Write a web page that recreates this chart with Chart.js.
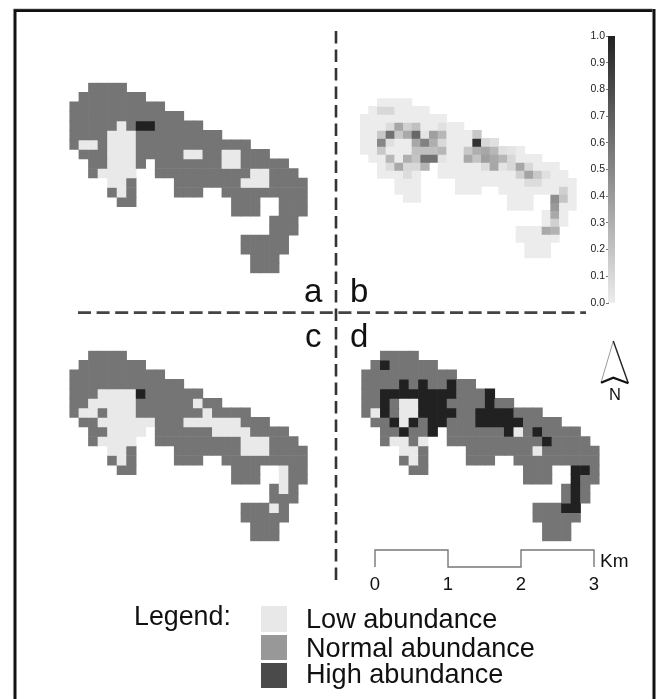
<!DOCTYPE html>
<html><head><meta charset="utf-8">
<style>
html,body{margin:0;padding:0;background:#fff;width:657px;height:699px;overflow:hidden}
#page{position:relative;width:657px;height:699px;filter:blur(0.45px)}
canvas{position:absolute}
svg{position:absolute;left:0;top:0}
text{font-family:"Liberation Sans",Arial,sans-serif;fill:#111}
</style>
<script src="https://cdn.jsdelivr.net/npm/chart.js@4/dist/chart.umd.min.js"></script>
</head><body><div id="page">
<svg width="657" height="699" viewBox="0 0 657 699">
  <path d="M15 699V10.5H654V699" fill="none" stroke="#111" stroke-width="3"/>
  <path d="M15 699V10.5H654V699" fill="none" stroke="#888" stroke-width="0.6" transform="translate(-1.6,-1.6)"/>
  <line x1="336" y1="31" x2="336" y2="584" stroke="#333" stroke-width="2.6" stroke-dasharray="12.5 6"/>
  <line x1="78" y1="312.6" x2="586" y2="312.6" stroke="#444" stroke-width="2.6" stroke-dasharray="13 5.6"/>
  <text x="304" y="302" font-size="33">a</text>
  <text x="350" y="302" font-size="33">b</text>
  <text x="305" y="347" font-size="33">c</text>
  <text x="350" y="347" font-size="33">d</text>
  <path d="M613.3 341L601 382.7" stroke="#999" stroke-width="1" fill="none"/>
  <path d="M613.3 341L628.3 383.3" stroke="#222" stroke-width="1.4" fill="none"/>
  <path d="M601 382.7L613.3 377.7L628.3 383.3" stroke="#111" stroke-width="2.2" fill="none"/>
  <text x="615" y="400" font-size="16.5" text-anchor="middle">N</text>
  <text x="600" y="567" font-size="19">Km</text>
  <text x="134" y="625" font-size="26.8">Legend:</text>
  <rect x="261" y="606" width="26" height="26" fill="#e8e8e8"/>
  <rect x="261" y="635" width="26" height="25" fill="#989898"/>
  <rect x="261" y="663" width="26" height="25" fill="#4a4a4a"/>
  <text x="306" y="628" font-size="27.1">Low abundance</text>
  <text x="306" y="657" font-size="27.1">Normal abundance</text>
  <text x="306" y="683" font-size="27.1">High abundance</text>
</svg>
<canvas id="panelA"></canvas><canvas id="panelB"></canvas><canvas id="panelC"></canvas><canvas id="panelD"></canvas>
<canvas id="colorbar"></canvas><canvas id="scalebar"></canvas>
</div>
<script>
// l = low, n = normal, h = high abundance, . = outside the area
const panelARows = [
"..nnnn",
".nnnnnnn",
"nnnnnnnnnn",
"nnnnnnnnnnnn",
"nnnnnlnhhnnnnn",
"nnnnlllnnnnnnnnn",
"nllnlllnnnnnnnnnnnn",
".nnnlllnnnnnllnnllnnn",
"..nnllln.nnnnnnnllnnnnn",
"..nllll..nnnnnnnnnnllnnn",
"....lln....nnnnnnnlllnnnn",
"....nln....nnn..nnnnnnnnn",
".....nn..........nnn..nnn",
".................nnn..nnn",
".....................nnn",
".....................nnn",
"..................nnnnn",
"..................nnnnn",
"...................nnn",
"...................nnn"];
const panelCRows = [
"..nnnn",
".nnnnnnn",
"nnnnnnnnnn",
"nnnnnnnnnnnn",
"nnnllllhnnnnnn",
"nnlllllnnnnnnlnn",
"nllnlllnnnnnnnlnnnn",
".nnllllllnnnllllllnnn",
"..nnllll.nnnnnnllllnnnn",
"..nllll..nnnnnnnnnlllnnn",
"....lln....nnnnnnnlllnnnn",
"....nln....nnn..nnnnnnnnn",
".....nn..........nnn..lnn",
".................nnn..lnn",
".....................nln",
".....................nnn",
"..................nnnln",
"..................nnnnn",
"...................nnn",
"...................nnn"];
const panelDRows = [
"..nnnn",
".nhnnnnn",
"nnnnnnnnnn",
"nnnnhnhnnhnn",
"nnhhhhhhhhnnnh",
"nnhnllhhhnnnnhnn",
"nlhnllhhhhnnhhhhnnn",
".nnhlhnhhnnnhhhhhnnnn",
"..nnhnnh.nnnnnnhlnhnnnn",
"..nllnl..nnnnnnnnnnhnnnn",
"....lln....nnnnnnnlnnnnnn",
"....nln....nnn..nnnnnnnnn",
".....nn..........nnn..hhn",
".................nnn..hnn",
".....................nhn",
".....................nhn",
"..................nnnhh",
"..................nnnnn",
"...................nnn",
"...................nnn"];
const _ = null;
// panel b: probability per cell, 0 to 1
const panelBValues = [
[_,_,0,0,0,0],
[_,0,.1,.1,0,0,0,0],
[0,0,0,0,0,0,0,0,0,0],
[0,0,0,.08,.34,.14,.22,0,0,.06,0,0],
[0,0,.18,.61,.18,.33,.66,.04,.38,.26,0,0,0,.18],
[0,0,.5,.06,0,0,.34,.53,.3,.1,0,0,0,.92,.1,.06],
[0,0,.18,0,0,0,.22,.22,.22,.26,0,0,.18,.3,.34,.26,.06,.04,0],
[_,0,0,.26,0,.3,.2,.61,.61,.04,0,0,.33,.2,.38,.33,.26,.1,0,0,0],
[_,_,0,.08,.33,.1,.1,.28,_,0,0,0,0,0,.08,.34,.04,.1,.34,.1,0,0,0],
[_,_,0,0,0,.08,0,_,_,0,0,0,0,0,0,0,0,0,.14,.36,.18,.06,0,0],
[_,_,_,_,0,0,0,_,_,_,_,0,0,0,0,0,0,0,0,.08,.08,0,0,0,0],
[_,_,_,_,0,0,0,_,_,_,_,0,0,0,_,_,0,0,0,0,0,0,0,.14,0],
[_,_,_,_,_,0,0,_,_,_,_,_,_,_,_,_,_,0,0,0,_,_,.46,.2,0],
[_,_,_,_,_,_,_,_,_,_,_,_,_,_,_,_,_,0,0,0,_,_,.41,0,0],
[_,_,_,_,_,_,_,_,_,_,_,_,_,_,_,_,_,_,_,_,_,0,.33,0],
[_,_,_,_,_,_,_,_,_,_,_,_,_,_,_,_,_,_,_,_,_,0,.14,0],
[_,_,_,_,_,_,_,_,_,_,_,_,_,_,_,_,_,_,0,0,0,.33,.28],
[_,_,_,_,_,_,_,_,_,_,_,_,_,_,_,_,_,_,0,0,0,0,0],
[_,_,_,_,_,_,_,_,_,_,_,_,_,_,_,_,_,_,_,0,0,0],
[_,_,_,_,_,_,_,_,_,_,_,_,_,_,_,_,_,_,_,0,0,0]];
const classColours = {l:"#e9e9e9", n:"#757575", h:"#212121"};
const colourbarTicks = [0,0.1,0.2,0.3,0.4,0.5,0.6,0.7,0.8,0.9,1.0];
const scaleKm = [0,0,1,1,2,2,3,3];
const scaleLevel = [0,1,1,0,0,1,1,0];

const nCols = 25, nRows = 20;
const columns = Array.from({length:nCols},(_v,i)=>String(i));
function greyOf(v){const g=Math.round(236-202*v);return `rgb(${g},${g},${g})`;}
function sized(id,w,h,left,top){const c=document.getElementById(id);c.width=w;c.height=h;c.style.width=w+"px";c.style.height=h+"px";c.style.left=left+"px";c.style.top=top+"px";return c;}
function drawPanel(id,box,colourRows){
  const L=Math.floor(box.x)-2,T=Math.floor(box.y)-2,W=Math.ceil(box.x+box.w)+2-L,H=Math.ceil(box.y+box.h)+2-T;
  const cv=sized(id,W,H,L,T);
  const datasets=colourRows.map((row,r)=>({
    data:columns.map((c,i)=>row[i]?[r,r+1]:null),
    backgroundColor:columns.map((c,i)=>row[i]||"rgba(0,0,0,0)"),
    borderWidth:0,barPercentage:1,categoryPercentage:1,grouped:false
  }));
  new Chart(cv,{type:"bar",data:{labels:columns,datasets},options:{
    responsive:false,animation:false,events:[],
    layout:{padding:{left:box.x-L,top:box.y-T,right:L+W-box.x-box.w,bottom:T+H-box.y-box.h}},
    plugins:{legend:{display:false},tooltip:{enabled:false}},
    scales:{x:{display:false},y:{display:false,reverse:true,min:0,max:nRows}}
  }});
}
const fromClasses=rows=>rows.map(s=>columns.map((c,i)=>classColours[s[i]]||null));
const fromValues=rows=>rows.map(row=>columns.map((c,i)=>(row[i]===null||row[i]===undefined)?null:greyOf(row[i])));

drawPanel("panelA",{x:69.4,y:82.7,w:238.3,h:190.6},fromClasses(panelARows));
drawPanel("panelB",{x:360,y:98.3,w:216.7,h:160},fromValues(panelBValues));
drawPanel("panelC",{x:69.4,y:350.7,w:238.3,h:190.6},fromClasses(panelCRows));
drawPanel("panelD",{x:361.3,y:350.7,w:238.3,h:190.6},fromClasses(panelDRows));

// colour bar with its own value axis
new Chart(sized("colorbar",45,290,570,26),{type:"bar",
  data:{labels:["p"],datasets:[{data:[[0,1]],borderWidth:0,barPercentage:1,categoryPercentage:1,
    backgroundColor(ctx){const a=ctx.chart.chartArea;if(!a)return "#888";
      const g=ctx.chart.ctx.createLinearGradient(0,a.bottom,0,a.top);
      g.addColorStop(0,greyOf(0));g.addColorStop(1,greyOf(1));return g;}}]},
  options:{responsive:false,animation:false,events:[],
    layout:{padding:{top:10,bottom:13,left:0,right:0}},
    plugins:{legend:{display:false},tooltip:{enabled:false}},
    scales:{x:{display:false},
      y:{min:0,max:1,afterFit(s){s.width=38;},
        afterBuildTicks(s){s.ticks=colourbarTicks.map(v=>({value:v}));},
        border:{display:true,color:"#777",width:1},
        grid:{display:true,drawOnChartArea:false,drawTicks:true,tickLength:2,color:"#777",tickColor:"#777"},
        ticks:{padding:1,autoSkip:false,color:"#222",font:{family:"Liberation Sans",size:10.5},callback:v=>Number(v).toFixed(1)}}}
  }});

// distance scale bar
new Chart(sized("scalebar",250,62,360,540),{type:"scatter",
  data:{datasets:[{data:scaleKm.map((k,i)=>({x:k,y:scaleLevel[i]})),showLine:true,borderColor:"#777",borderWidth:1.4,pointRadius:0,tension:0,clip:false}]},
  options:{responsive:false,animation:false,events:[],
    layout:{padding:{top:10,left:15,right:16,bottom:0}},
    plugins:{legend:{display:false},tooltip:{enabled:false}},
    scales:{y:{display:false,min:0,max:1},
      x:{min:0,max:3,afterFit(s){s.height=35;},
        border:{display:false},grid:{display:false,drawTicks:false},
        ticks:{stepSize:1,padding:7,maxRotation:0,color:"#111",font:{family:"Liberation Sans",size:18.5},callback:v=>String(v)}}}
  }});
</script></body></html>
